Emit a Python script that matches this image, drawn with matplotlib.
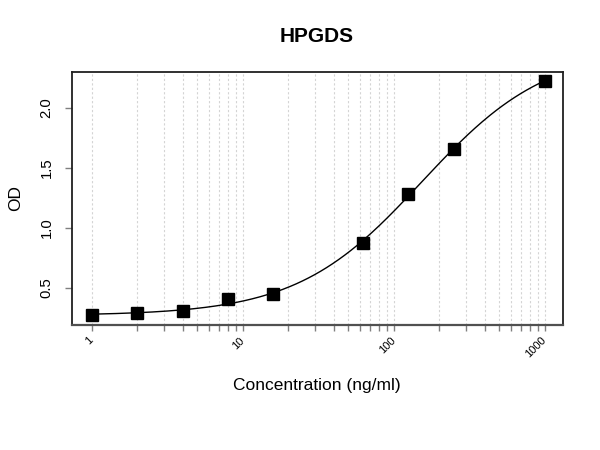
import numpy as np
import matplotlib
matplotlib.use("Agg")
from matplotlib import pyplot as plt
from matplotlib.ticker import NullFormatter, FixedLocator

conc = [1, 2, 4, 8, 16, 62.5, 125, 250, 1000]
od = [0.27, 0.287, 0.308, 0.403, 0.445, 0.875, 1.283, 1.653, 2.225]
x_ticks = [1, 10, 100, 1000]
x_tick_labels = ["1", "10", "100", "1000"]
x_minor = [m * d for d in (1, 10, 100) for m in range(2, 10)]
y_ticks = [0.5, 1.0, 1.5, 2.0]
y_tick_labels = ["0.5", "1.0", "1.5", "2.0"]

plt.rcParams['font.family'] = ['Liberation Sans', 'DejaVu Sans']


def four_pl(p, lx):
    bottom, top, lc, slope = p
    return top + (bottom - top) / (1 + 10 ** (slope * (lx - lc)))


def fit_four_pl(lx, y, p0, n_iter=200):
    # small Levenberg-Marquardt, numpy only
    p = np.array(p0, dtype=float)
    lam = 1e-2
    for _ in range(n_iter):
        r = y - four_pl(p, lx)
        J = np.zeros((len(lx), len(p)))
        for k in range(len(p)):
            dp = np.zeros_like(p)
            dp[k] = 1e-6
            J[:, k] = (four_pl(p + dp, lx) - four_pl(p - dp, lx)) / 2e-6
        A = J.T @ J
        step = np.linalg.solve(A + lam * np.diag(np.diag(A)), J.T @ r)
        p_new = p + step
        if np.sum((y - four_pl(p_new, lx)) ** 2) < np.sum(r ** 2):
            p = p_new
            lam *= 0.5
        else:
            lam *= 4
    return p


lx = np.log10(conc)
y = np.array(od)
params = fit_four_pl(lx, y, [0.27, 2.6, 2.2, 1.0])
curve_lx = np.linspace(lx.min(), lx.max(), 300)

fig = plt.figure(figsize=(6, 4.5), dpi=100)
ax = fig.add_axes([0.1195, 0.2778, 0.8183, 0.5629])

ax.plot(10 ** curve_lx, four_pl(params, curve_lx), color='black', lw=1.0, zorder=3)
ax.plot(conc, od, 's', color='black', ms=8.5, zorder=4)

ax.set_xscale('log')
ax.set_xlim(10 ** -0.132, 10 ** 3.119)
ax.set_ylim(0.189, 2.30)

ax.xaxis.set_major_locator(FixedLocator(x_ticks))
ax.xaxis.set_minor_locator(FixedLocator(x_minor))
ax.xaxis.set_minor_formatter(NullFormatter())
ax.set_xticklabels(x_tick_labels, rotation=45, ha='right', va='center',
                   rotation_mode='anchor', fontsize=8)
ax.tick_params(axis='x', which='both', length=4, width=1, color='#808080', pad=6)
ax.grid(True, which='both', axis='x', linestyle=(0, (2, 2)), color='#d4d4d4', lw=0.8)

ax.set_yticks(y_ticks)
ax.set_yticklabels(y_tick_labels, rotation=90, va='center', fontsize=10.7)
ax.tick_params(axis='y', length=5, width=1, color='#808080', pad=8)

for s in ax.spines.values():
    s.set_color('#202020')
    s.set_linewidth(1.3)
ax.spines['bottom'].set_color('#505050')
ax.spines['bottom'].set_linewidth(1.6)

ax.set_xlabel("Concentration (ng/ml)", fontsize=12.5, labelpad=13)
ax.set_ylabel("OD", fontsize=12.5, labelpad=12)
fig.suptitle("HPGDS", fontsize=15, fontweight='bold', x=0.527, y=0.94)

fig.savefig("out.png", dpi=100)
